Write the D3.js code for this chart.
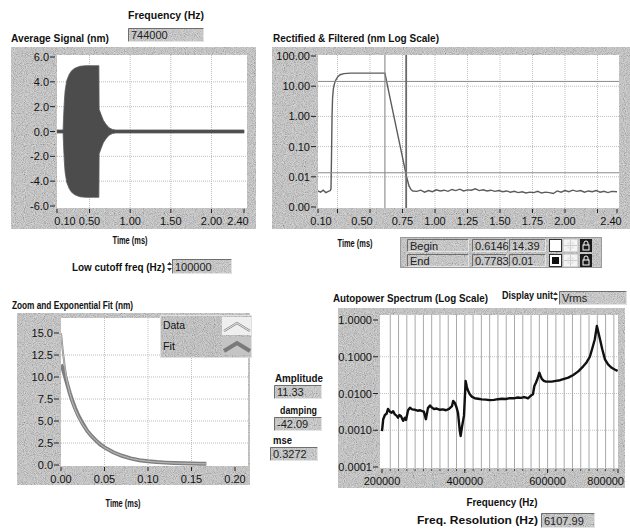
<!DOCTYPE html>
<html><head><meta charset="utf-8">
<script src="https://cdn.jsdelivr.net/npm/d3@7/dist/d3.min.js"></script>
<style>html,body{margin:0;padding:0;background:#fff;overflow:hidden}svg{display:block}</style>
</head><body>
<svg id="c" width="630" height="531"></svg>
<script>
// ---------------- DATA ----------------
// Average Signal (nm): envelope of the 744 kHz burst
const sigTimes    = [0.10, 0.175, 0.18, 0.19, 0.20, 0.22, 0.25, 0.28, 0.32, 0.38, 0.45, 0.55, 0.615, 0.618, 0.64, 0.67, 0.70, 0.74, 0.78, 0.82, 1.20, 1.80, 2.40];
const sigEnvelope = [0.12, 0.12, 1.0, 2.4, 3.3, 4.1, 4.6, 4.9, 5.1, 5.25, 5.3, 5.3, 5.3, 1.8, 1.4, 0.9, 0.6, 0.3, 0.17, 0.12, 0.12, 0.12, 0.12];
const sigXTicks = [0.10, 0.50, 1.00, 1.50, 2.00, 2.40];
const sigXLabels = ["0.10", "0.50", "1.00", "1.50", "2.00", "2.40"];
const sigYTicks = [6, 4, 2, 0, -2, -4, -6];
const sigYLabels = ["6.0", "4.0", "2.0", "0.0", "-2.0", "-4.0", "-6.0"];

// Rectified & Filtered (nm, log scale)
const rfTimes = [0.10, 0.12, 0.14, 0.16, 0.18, 0.195, 0.200, 0.204, 0.208, 0.212, 0.218, 0.225, 0.235, 0.25, 0.27, 0.30, 0.35, 0.45, 0.55, 0.6146, 0.65, 0.70, 0.75, 0.78, 0.80, 0.815, 0.83,
  0.86, 0.89, 0.92, 0.95, 0.98, 1.01, 1.04, 1.07, 1.10, 1.13, 1.16, 1.19, 1.22, 1.25, 1.28, 1.31, 1.34, 1.37, 1.40, 1.43, 1.46, 1.49, 1.52, 1.55, 1.58, 1.61, 1.64, 1.67, 1.70, 1.73, 1.76, 1.79, 1.82, 1.85, 1.88, 1.91, 1.94, 1.97, 2.00, 2.03, 2.06, 2.09, 2.12, 2.15, 2.18, 2.21, 2.24, 2.27, 2.30, 2.33, 2.36, 2.40];
const rfValues = [0.0034, 0.0031, 0.0036, 0.0030, 0.0033, 0.0035, 0.004, 0.05, 1.0, 4.0, 8.0, 11.5, 15.5, 20, 24, 26, 27, 27, 27, 27, 5.0, 0.47, 0.044, 0.0105, 0.005, 0.0038, 0.0034,
  0.0033, 0.0036, 0.0031, 0.0035, 0.0032, 0.0037, 0.0034, 0.0036, 0.0033, 0.0038, 0.0035, 0.0039, 0.0034, 0.0037, 0.0036, 0.0040, 0.0035, 0.0037, 0.0034, 0.0036, 0.0033, 0.0035, 0.0032, 0.0034, 0.0031, 0.0033, 0.0030, 0.0032, 0.0029, 0.0031, 0.0030, 0.0033, 0.0029, 0.0031, 0.0030, 0.0028, 0.0034, 0.0031, 0.0035, 0.0032, 0.0036, 0.0033, 0.0035, 0.0031, 0.0034, 0.0032, 0.0035, 0.0031, 0.0033, 0.0030, 0.0033, 0.0032];
const rfXTicks = [0.10, 0.25, 0.50, 0.75, 1.00, 1.25, 1.50, 1.75, 2.00, 2.25, 2.40];
const rfXLabels = ["0.10", "", "0.50", "0.75", "1.00", "1.25", "1.50", "1.75", "2.00", "", "2.40"];
const rfYTicks = [100, 10, 1, 0.1, 0.01, 0.001];
const rfYLabels = ["100.00", "10.00", "1.00", "0.10", "0.01", "0.00"];
const cursorNames = ["Begin", "End"];
const cursorX = [0.6146, 0.7783];
const cursorY = [14.39, 0.0136];
const cursorXText = ["0.6146", "0.7783"];
const cursorYText = ["14.39", "0.01"];

// Zoom and Exponential Fit (nm)
const fitTimes = [0, 0.002, 0.004, 0.006, 0.008, 0.010, 0.013, 0.016, 0.020, 0.025, 0.030, 0.035, 0.040, 0.045, 0.050, 0.060, 0.070, 0.080, 0.090, 0.100, 0.110, 0.120, 0.130, 0.140, 0.150, 0.160, 0.167];
const fitData  = [15.0, 13.0, 11.4, 10.0, 9.0, 8.2, 7.2, 6.4, 5.5, 4.6, 3.9, 3.3, 2.8, 2.35, 2.0, 1.45, 1.05, 0.75, 0.55, 0.42, 0.33, 0.27, 0.22, 0.19, 0.17, 0.15, 0.14];
const fitCurve = [11.4, 11.0, 10.3, 9.6, 8.9, 8.2, 7.3, 6.5, 5.6, 4.7, 3.9, 3.3, 2.8, 2.35, 2.0, 1.45, 1.05, 0.75, 0.55, 0.42, 0.33, 0.27, 0.22, 0.19, 0.17, 0.15, 0.14];
const fitXTicks = [0, 0.05, 0.10, 0.15, 0.20];
const fitXLabels = ["0.00", "0.05", "0.10", "0.15", "0.20"];
const fitYTicks = [15, 12.5, 10, 7.5, 5, 2.5, 0];
const fitYLabels = ["15.0", "12.5", "10.0", "7.5", "5.0", "2.5", "0.0"];
const fitLegend = ["Data", "Fit"];
const fitParamNames = ["Amplitude", "damping", "mse"];
const fitParamValues = ["11.33", "-42.09", "0.3272"];

// Autopower Spectrum (Vrms, log scale)
const specFreq = [200000, 203000, 207000, 211000, 214500, 219000, 223000, 227000, 231000, 235000, 238600, 242000, 246000, 251000, 255500, 258000, 263000, 267600, 273000, 280000, 286000, 292000, 297000, 301000, 306000, 311000, 316000, 321000, 325600, 332000, 340000, 347000, 354500, 362000, 369000, 372000, 376000, 380000, 383500, 388000, 390000, 393000, 398000, 402000, 405000, 407700, 412000, 417000, 424000, 432000, 441000, 451000, 460000, 470500, 480000, 490000, 499000, 509000, 518000, 528000, 536000, 543000, 548000, 552600, 557000, 560000, 564600, 568000, 572000, 576000, 580000, 583000, 586000, 591000, 596000, 603000, 610000, 620000, 630000, 640000, 650000, 662000, 674000, 686000, 694000, 702000, 708000, 714000, 719000, 726500, 732000, 738500, 746000, 754700, 762000, 769000];
const specValues = [0.00095, 0.0020, 0.0026, 0.0028, 0.0038, 0.0032, 0.0030, 0.0033, 0.0027, 0.0025, 0.0022, 0.0026, 0.0024, 0.0018, 0.0022, 0.0019, 0.0035, 0.0041, 0.0037, 0.0036, 0.0034, 0.0035, 0.0033, 0.0032, 0.0020, 0.0040, 0.0047, 0.0041, 0.0038, 0.0039, 0.0036, 0.0037, 0.0035, 0.0038, 0.0045, 0.0063, 0.0055, 0.0042, 0.0030, 0.00095, 0.0007, 0.0012, 0.0025, 0.022, 0.015, 0.012, 0.0095, 0.0082, 0.0074, 0.0072, 0.0069, 0.0068, 0.0066, 0.0067, 0.0070, 0.0072, 0.0071, 0.0075, 0.0074, 0.0078, 0.0076, 0.0080, 0.0077, 0.0074, 0.0082, 0.0088, 0.0095, 0.016, 0.020, 0.026, 0.037, 0.030, 0.025, 0.022, 0.021, 0.021, 0.021, 0.022, 0.023, 0.025, 0.027, 0.032, 0.040, 0.055, 0.070, 0.10, 0.17, 0.30, 0.69, 0.30, 0.16, 0.085, 0.062, 0.050, 0.045, 0.041];
const specXTicks = [200000, 400000, 600000, 800000];
const specXLabels = ["200000", "400000", "600000", "800000"];
const specYTicks = [1, 0.1, 0.01, 0.001, 0.0001];
const specYLabels = ["1.0000", "0.1000", "0.0100", "0.0010", "0.0001"];

// Front-panel controls / indicators
const frequencyValue = "744000";
const lowCutoffValue = "100000";
const displayUnit = "Vrms";
const freqResolution = "6107.99";

// ---------------- DRAWING ----------------
const FONT = "'Liberation Sans', Arial, sans-serif";
const NARROW = "'Liberation Sans Narrow', 'Liberation Sans', Arial, sans-serif";
const svg = d3.select("#c");
const defs = svg.append("defs");
const grain = defs.append("filter").attr("id", "grain").attr("x", 0).attr("y", 0).attr("width", 1).attr("height", 1);
grain.append("feTurbulence").attr("type", "fractalNoise").attr("baseFrequency", 1.1).attr("numOctaves", 1).attr("seed", 4);
grain.append("feColorMatrix").attr("type", "matrix").attr("values", "1.6 0 0 0 -0.3  1.6 0 0 0 -0.3  1.6 0 0 0 -0.3  0 0 0 0 0.35");

function panel(g, x, y, w, h, base) {
  g.append("rect").attr("x", x).attr("y", y).attr("width", w).attr("height", h).attr("fill", base || "#c6c6c6");
  g.append("rect").attr("x", x).attr("y", y).attr("width", w).attr("height", h).attr("fill", "#000").attr("filter", "url(#grain)");
}
function label(x, y, s, width, opt) {
  opt = opt || {};
  const t = svg.append("text").attr("x", x).attr("y", y).text(s)
    .attr("font-family", opt.family || NARROW).attr("font-size", opt.size || 11)
    .attr("font-weight", opt.weight || "bold").attr("fill", opt.fill || "#111")
    .attr("text-anchor", opt.anchor || "start");
  if (width) t.attr("textLength", width).attr("lengthAdjust", "spacingAndGlyphs");
  return t;
}
function valueBox(x, y, w, h, s) {
  const g = svg.append("g");
  panel(g, x, y, w, h, "#cbcbcb");
  g.append("path").attr("d", `M${x+0.5},${y+h-0.5}V${y+0.5}H${x+w-0.5}`).attr("fill", "none").attr("stroke", "#6e6e6e");
  g.append("path").attr("d", `M${x+0.5},${y+h-0.5}H${x+w-0.5}V${y+0.5}`).attr("fill", "none").attr("stroke", "#e4e4e4");
  g.append("text").attr("x", x + 3).attr("y", y + h / 2 + 4).text(s).attr("font-family", FONT).attr("font-size", 11).attr("fill", "#222");
}
function spinner(x, y) {
  svg.append("path").attr("d", `M${x},${y+3}L${x+2.5},${y}L${x+5},${y+3}Z M${x},${y+6}L${x+2.5},${y+9}L${x+5},${y+6}Z`).attr("fill", "#333");
}
function yLabels(g, scale, ticks, labels, left) {
  ticks.forEach((v, i) => {
    const y = scale(v);
    g.append("line").attr("x1", left - 7).attr("x2", left - 2).attr("y1", y).attr("y2", y).attr("stroke", "#222");
    g.append("text").attr("x", left - 8).attr("y", y + 4).attr("text-anchor", "end").text(labels[i])
      .attr("font-family", FONT).attr("font-size", 11).attr("fill", "#111");
  });
}
function xLabels(g, scale, ticks, labels, bottom, anchors, lastEndAt) {
  ticks.forEach((v, i) => {
    const x = Math.min(scale(v), scale.range()[1]);
    g.append("line").attr("x1", x).attr("x2", x).attr("y1", bottom + 1).attr("y2", bottom + 5).attr("stroke", "#222");
    if (labels[i]) {
      const t = g.append("text").attr("x", x + ((anchors && anchors[i]) || 0)).attr("y", bottom + 17).attr("text-anchor", "middle")
        .text(labels[i]).attr("font-family", FONT).attr("font-size", 11).attr("fill", "#111");
      if (lastEndAt && i === ticks.length - 1) t.attr("x", lastEndAt).attr("text-anchor", "end");
    }
  });
}
function plotArea(g, id, x0, y0, x1, y1) {
  g.append("rect").attr("x", x0).attr("y", y0).attr("width", x1 - x0).attr("height", y1 - y0).attr("fill", "#fff");
  defs.append("clipPath").attr("id", id).append("rect").attr("x", x0).attr("y", y0).attr("width", x1 - x0).attr("height", y1 - y0);
  return g.append("g").attr("clip-path", `url(#${id})`);
}
function grid(g, xs, ys, x0, y0, x1, y1, color, dash) {
  xs.forEach(x => g.append("line").attr("x1", x).attr("x2", x).attr("y1", y0).attr("y2", y1).attr("stroke", color || "#bdbdbd").attr("stroke-dasharray", dash === undefined ? "1,1" : dash));
  ys.forEach(y => g.append("line").attr("x1", x0).attr("x2", x1).attr("y1", y).attr("y2", y).attr("stroke", color || "#bdbdbd").attr("stroke-dasharray", dash === undefined ? "1,1" : dash));
}

// ===== Top labels =====
label(128, 19, "Frequency (Hz)", 76);
valueBox(128, 28, 76, 14, frequencyValue);
label(11, 42, "Average Signal (nm)", 98);
label(273, 42, "Rectified & Filtered (nm Log Scale)", 166);

// ===== Chart 1 : Average Signal =====
{
  const g = svg.append("g");
  panel(g, 11, 47, 245, 182);
  const x = d3.scaleLinear().domain([0.1, 2.4]).range([57, 244]);
  const y = d3.scaleLinear().domain([-6, 6]).range([206, 57]);
  const p = plotArea(g, "clip1", 57, 55, 247, 208);
  grid(p, [0.5, 1, 1.5, 2].map(x), [4, 2, -2, -4].map(y), 57, 55, 247, 208);
  const area = d3.area().x((d, i) => x(sigTimes[i])).y0(d => y(-d)).y1(d => y(d));
  p.append("path").attr("d", area(sigEnvelope)).attr("fill", "#4c4c4c").attr("stroke", "#5a5a5a").attr("stroke-width", 0.8);
  yLabels(g, y, sigYTicks, sigYLabels, 57);
  xLabels(g, x, sigXTicks, sigXLabels, 208, [8, 0, 0, 0, 0, -6]);
}
label(130, 244, "Time (ms)", 35, { anchor: "middle" });
label(72, 271, "Low cutoff freq (Hz)", 93);
spinner(167, 262);
valueBox(172, 259, 60, 15, lowCutoffValue);

// ===== Chart 2 : Rectified & Filtered =====
{
  const g = svg.append("g");
  panel(g, 272, 47, 358, 182);
  const x = d3.scaleLinear().domain([0.1, 2.4]).range([318, 617]);
  const y = d3.scaleLog().domain([0.001, 100]).range([207, 56]);
  const p = plotArea(g, "clip2", 318, 55, 619, 208);
  grid(p, [0.25, 0.5, 0.75, 1, 1.25, 1.5, 1.75, 2, 2.25].map(x), [10, 1, 0.1, 0.01].map(y), 318, 55, 619, 208);
  const line = d3.line().x((d, i) => x(rfTimes[i])).y(d => y(d));
  p.append("path").attr("d", line(rfValues.slice(0, rfTimes.length))).attr("fill", "none").attr("stroke", "#5c5c5c").attr("stroke-width", 1.4);
  // cursors
  cursorX.forEach((cx, i) => {
    p.append("line").attr("x1", x(cx)).attr("x2", x(cx)).attr("y1", 55).attr("y2", 208).attr("stroke", i ? "#6a6a6a" : "#8a8a8a").attr("stroke-width", i ? 1.8 : 1.1);
    p.append("line").attr("x1", 318).attr("x2", 619).attr("y1", y(cursorY[i])).attr("y2", y(cursorY[i])).attr("stroke", "#8a8a8a").attr("stroke-width", 1);
  });
  yLabels(g, y, rfYTicks, rfYLabels, 318);
  xLabels(g, x, rfXTicks, rfXLabels, 208, [3, 0, -8, 0, 0, 0, 0, 0, 0, 0, -6]);
}
label(355, 247, "Time (ms)", 35, { anchor: "middle" });

// cursor legend
{
  const g = svg.append("g");
  panel(g, 400, 237, 202, 31);
  g.append("rect").attr("x", 400.5).attr("y", 237.5).attr("width", 201).attr("height", 30).attr("fill", "none").attr("stroke", "#9a9a9a");
  cursorNames.forEach((n, i) => {
    const yy = 239 + i * 15;
    valueBox(407, yy, 62, 13, n);
    valueBox(472, yy, 35, 13, cursorXText[i]);
    valueBox(509, yy, 37, 13, cursorYText[i]);
    svg.append("rect").attr("x", 549.5).attr("y", yy + 0.5).attr("width", 12).attr("height", 12).attr("fill", "#fff").attr("stroke", "#333");
    if (i) svg.append("rect").attr("x", 552).attr("y", yy + 3).attr("width", 7).attr("height", 7).attr("fill", "#111");
    svg.append("rect").attr("x", 563).attr("y", yy).attr("width", 15).attr("height", 13).attr("fill", "#f4f4f4").attr("stroke", "#bbb");
    svg.append("path").attr("d", `M570.5,${yy+1}V${yy+12}M564,${yy+6.5}H577`).attr("stroke", "#ccc").attr("stroke-width", 1);
    svg.append("rect").attr("x", 570.5 - 2.5).attr("y", yy + 4).attr("width", 5).attr("height", 5).attr("fill", "none").attr("stroke", "#ddd");
    svg.append("rect").attr("x", 580).attr("y", yy).attr("width", 12).attr("height", 13).attr("fill", "#1a1a1a");
    svg.append("path").attr("d", `M584,${yy+6}V${yy+4}A2,2 0 0 1 588,${yy+4}V${yy+6}`).attr("fill", "none").attr("stroke", "#fff");
    svg.append("rect").attr("x", 583).attr("y", yy + 6).attr("width", 6).attr("height", 5).attr("fill", "none").attr("stroke", "#fff");
  });
}

// ===== Chart 3 : Zoom and Exponential Fit =====
label(12, 309, "Zoom and Exponential Fit (nm)", 121);
{
  const g = svg.append("g");
  panel(g, 17, 313, 233, 172);
  const x = d3.scaleLinear().domain([0, 0.2]).range([61, 235]);
  const y = d3.scaleLinear().domain([0, 15]).range([465, 333]);
  const p = plotArea(g, "clip3", 61, 318, 248, 466);
  grid(p, [0.05, 0.1, 0.15].map(x), [12.5, 10, 7.5, 5, 2.5].map(y), 61, 318, 248, 466);
  const line = d3.line().x((d, i) => x(fitTimes[i])).y(d => y(d));
  p.append("path").attr("d", line(fitCurve)).attr("fill", "none").attr("stroke", "#7d7d7d").attr("stroke-width", 4);
  p.append("path").attr("d", line(fitData)).attr("fill", "none").attr("stroke", "#8a8a8a").attr("stroke-width", 2);
  p.append("path").attr("d", line(fitData)).attr("fill", "none").attr("stroke", "#d8d8d8").attr("stroke-width", 0.6);
  yLabels(g, y, fitYTicks, fitYLabels, 61);
  xLabels(g, x, fitXTicks, fitXLabels, 466, null);
  // legend
  panel(g, 160, 315, 92, 43, "#c2c2c2");
  g.append("rect").attr("x", 160.5).attr("y", 315.5).attr("width", 91).attr("height", 42).attr("fill", "none").attr("stroke", "#e0e0e0");
  fitLegend.forEach((n, i) => {
    const yy = 317 + i * 20;
    g.append("rect").attr("x", 222).attr("y", yy).attr("width", 29).attr("height", 18).attr("fill", i ? "#c4c4c4" : "#efefef");
    const d = `M224,${yy+14}L237,${yy+6}L250,${yy+14}`;
    if (i) {
      g.append("path").attr("d", d).attr("fill", "none").attr("stroke", "#7a7a7a").attr("stroke-width", 4);
    } else {
      g.append("path").attr("d", d).attr("fill", "none").attr("stroke", "#8a8a8a").attr("stroke-width", 2.2);
      g.append("path").attr("d", d).attr("fill", "none").attr("stroke", "#fff").attr("stroke-width", 0.8);
    }
  });
}
label(163, 329, fitLegend[0], 22, { weight: "normal", family: FONT });
label(163, 350, fitLegend[1], 12, { weight: "normal", family: FONT });
label(123, 507, "Time (ms)", 35, { anchor: "middle" });

// parameters
const paramLabelX = [275, 280, 273], paramLabelW = [48, 37, 19], paramBoxX = [274, 274, 270];
fitParamNames.forEach((n, i) => {
  const top = [385, 417, 447][i];
  label(paramLabelX[i], top - 3, n, paramLabelW[i]);
  valueBox(paramBoxX[i], top, 48, 14, fitParamValues[i]);
});

// ===== Chart 4 : Autopower Spectrum =====
label(333, 302, "Autopower Spectrum (Log Scale)", 155);
label(502, 299, "Display unit", 51);
spinner(553, 292);
valueBox(559, 291, 68, 14, displayUnit);
{
  const g = svg.append("g");
  panel(g, 338, 308, 287, 180);
  const x = d3.scaleLinear().domain([200000, 770000]).range([382, 618]);
  const y = d3.scaleLog().domain([0.0001, 1]).range([467, 320]);
  const p = plotArea(g, "clip4", 380, 315, 618, 468);
  const minor = d3.range(220000, 770000, 20000);
  grid(p, [], [0.1, 0.01, 0.001].map(y), 380, 315, 618, 468, "#c4c4c4", "1,1");
  grid(p, minor.map(x), [], 380, 315, 618, 468, "#a9a9a9", "");
  minor.forEach(f => g.append("line").attr("x1", x(f)).attr("x2", x(f)).attr("y1", 469).attr("y2", 471).attr("stroke", "#444"));
  const line = d3.line().x((d, i) => x(specFreq[i])).y(d => y(d));
  p.append("path").attr("d", line(specValues.slice(0, specFreq.length))).attr("fill", "none").attr("stroke", "#111").attr("stroke-width", 2.4).attr("stroke-linejoin", "round");
  yLabels(g, y, specYTicks, specYLabels, 380);
  xLabels(g, x, specXTicks, specXLabels, 468, [0, 0, 0, 0], 624);
}
label(502, 506, "Frequency (Hz)", 71, { anchor: "middle" });
label(417, 524, "Freq. Resolution (Hz)", 121);
valueBox(541, 513, 54, 15, freqResolution);
</script>
</body></html>
